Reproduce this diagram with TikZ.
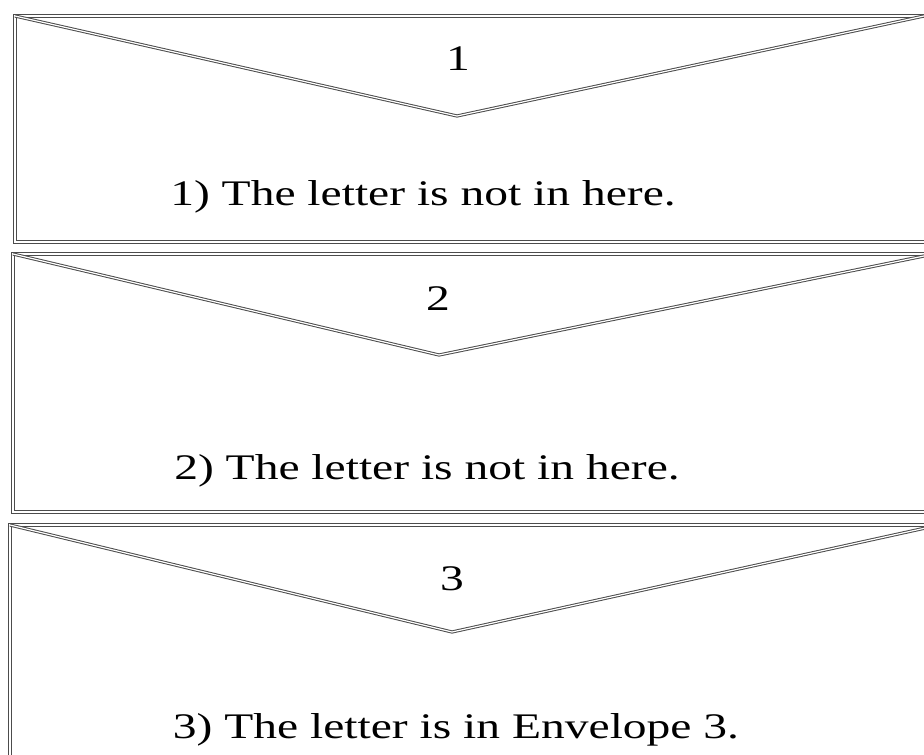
\documentclass[tikz,border=0pt]{standalone}
\usepackage{fontspec}
\setmainfont{Liberation Serif}
\newfontfamily\envfont[FakeStretch=1.32]{Liberation Serif}

\tikzset{
    envline/.style={draw=black!70, double=white, double distance=1.2pt, line width=1pt, line join=miter},
    envtext/.style={font=\envfont\fontsize{36}{40}\selectfont, anchor=base, inner sep=0pt}
}

\begin{document}
\begin{tikzpicture}[x=1pt,y=-1pt]
    \useasboundingbox (0,0) rectangle (924,755);
    % envelope 1
    \draw[envline] (930,16) -- (15,16) -- (15,242) -- (930,242);
    \draw[envline] (15,16) -- (457,116) -- (924,16);
    \node[envtext] (num1) at (458,70) {1};
    \node[envtext] (note1) at (423,205) {1) The letter is not in here.};
    % envelope 2
    \draw[envline] (930,254) -- (13,254) -- (13,512) -- (930,512);
    \draw[envline] (13,254) -- (439,355) -- (924,256);
    \node[envtext] (num2) at (438,310) {2};
    \node[envtext] (note2) at (427,479) {2) The letter is not in here.};
    % envelope 3
    \draw[envline] (930,525) -- (10,525) -- (10,775);
    \draw[envline] (10,525) -- (452,632) -- (930,527);
    \node[envtext] (num3) at (452,590) {3};
    \node[envtext] (note3) at (456,738) {3) The letter is in Envelope 3.};
\end{tikzpicture}
\end{document}
